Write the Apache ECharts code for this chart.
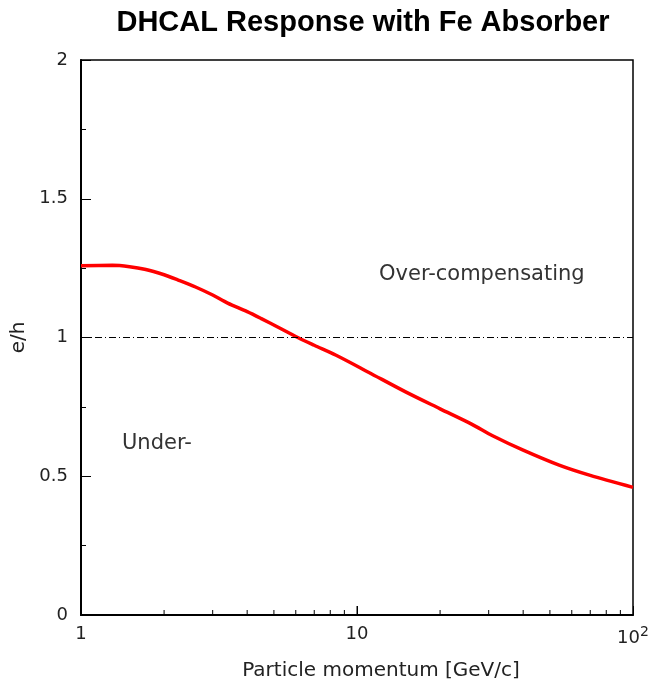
<!DOCTYPE html>
<html>
<head>
<meta charset="utf-8">
<script src="https://cdn.jsdelivr.net/npm/echarts@6/dist/echarts.min.js"></script>
<style>
  html, body { margin: 0; padding: 0; background: #fff; }
  #chart { width: 652px; height: 686px; }
</style>
</head>
<body>
<div id="chart"></div>
<script>
// momentum [GeV/c] and e/h
const momentum = [1, 1.3, 1.5, 1.7, 2, 2.25, 2.6, 3, 3.4, 4, 4.5, 5.2, 6.1, 7, 8.4, 11, 15, 20, 26, 31, 40, 54, 70, 100];
const ehRatio = [1.259, 1.260, 1.255, 1.246, 1.226, 1.207, 1.182, 1.153, 1.124, 1.093, 1.068, 1.036, 1.000, 0.972, 0.936, 0.875, 0.804, 0.743, 0.688, 0.646, 0.594, 0.540, 0.503, 0.460];
// ticks on the log axis
const minorTicks = [2, 3, 4, 5, 6, 7, 8, 9, 20, 30, 40, 50, 60, 70, 80, 90];
const majorTicks = [10];
const yTicks = [0, 0.5, 1, 1.5, 2];

const font = "DejaVu Sans";
let chart = echarts.init(document.getElementById("chart"));

const curve = momentum.map((p, i) => [p, ehRatio[i]]);
const tickData = minorTicks.map(v => [v, 5]).concat(majorTicks.map(v => [v, 9]));

let option = {
  animation: false,
  title: {
    text: "DHCAL Response with Fe Absorber",
    left: 358,
    top: 3,
    textAlign: "center",
    textStyle: { fontFamily: "Liberation Sans", fontWeight: "bold", fontSize: 29, color: "#000" },
  },
  grid: {
    left: 81, right: 19, top: 60, bottom: 67,
    show: true, borderColor: "#000", borderWidth: 1.5, backgroundColor: "transparent",
  },
  xAxis: {
    type: "log",
    logBase: 10,
    min: 1,
    max: 100,
    name: "Particle momentum [GeV/c]",
    nameLocation: "middle",
    nameGap: 46,
    nameTextStyle: { fontFamily: font, fontSize: 20, color: "#222", padding: [0, 0, 0, 48] },
    axisLine: { lineStyle: { color: "#000", width: 2 } },
    axisTick: { inside: true, length: 9, lineStyle: { color: "#000" } },
    splitLine: { show: false },
    axisLabel: {
      margin: 10,
      fontFamily: font,
      fontSize: 18,
      color: "#222",
      formatter: v => (v === 100 ? "{b|10}{s|2}" : String(v)),
      rich: {
        b: { fontFamily: font, fontSize: 18, color: "#222" },
        s: { fontFamily: font, fontSize: 14, color: "#222", verticalAlign: "top", padding: [0, 0, 12, 0] },
      },
    },
  },
  yAxis: {
    type: "value",
    min: yTicks[0],
    max: yTicks[yTicks.length - 1],
    interval: 0.5,
    name: "e/h",
    nameLocation: "middle",
    nameGap: 51,
    nameTextStyle: { fontFamily: font, fontSize: 20, color: "#222" },
    axisLine: { show: true, lineStyle: { color: "#000", width: 2 } },
    axisTick: { inside: true, length: 10, lineStyle: { color: "#000" } },
    minorTick: { show: true, splitNumber: 2, length: 5, lineStyle: { color: "#000" } },
    splitLine: { show: false },
    axisLabel: { margin: 13, fontFamily: font, fontSize: 18, color: "#222" },
  },
  graphic: [
    { type: "text", left: 379, top: 264, style: { text: "Over-compensating", font: "21px 'DejaVu Sans'", fill: "#333" } },
    { type: "text", left: 122, top: 433, style: { text: "Under-", font: "21px 'DejaVu Sans'", fill: "#333" } },
  ],
  series: [
    {
      type: "line",
      data: curve,
      smooth: 0.3,
      showSymbol: false,
      lineStyle: { color: "#ff0000", width: 3.5 },
      z: 3,
      markLine: {
        silent: true,
        symbol: "none",
        label: { show: false },
        lineStyle: { color: "#000", width: 1, type: [7, 3, 1, 3] },
        data: [{ yAxis: 1 }],
      },
    },
    {
      // minor/major ticks on the log x axis, drawn upward from y = 0
      type: "custom",
      silent: true,
      data: tickData,
      renderItem: (params, api) => {
        const pt = api.coord([api.value(0), 0]);
        return {
          type: "line",
          shape: { x1: pt[0], y1: pt[1], x2: pt[0], y2: pt[1] - api.value(1) },
          style: { stroke: "#000", lineWidth: 1 },
        };
      },
      z: 4,
    },
  ],
};

chart.setOption(option);
</script>
</body>
</html>
